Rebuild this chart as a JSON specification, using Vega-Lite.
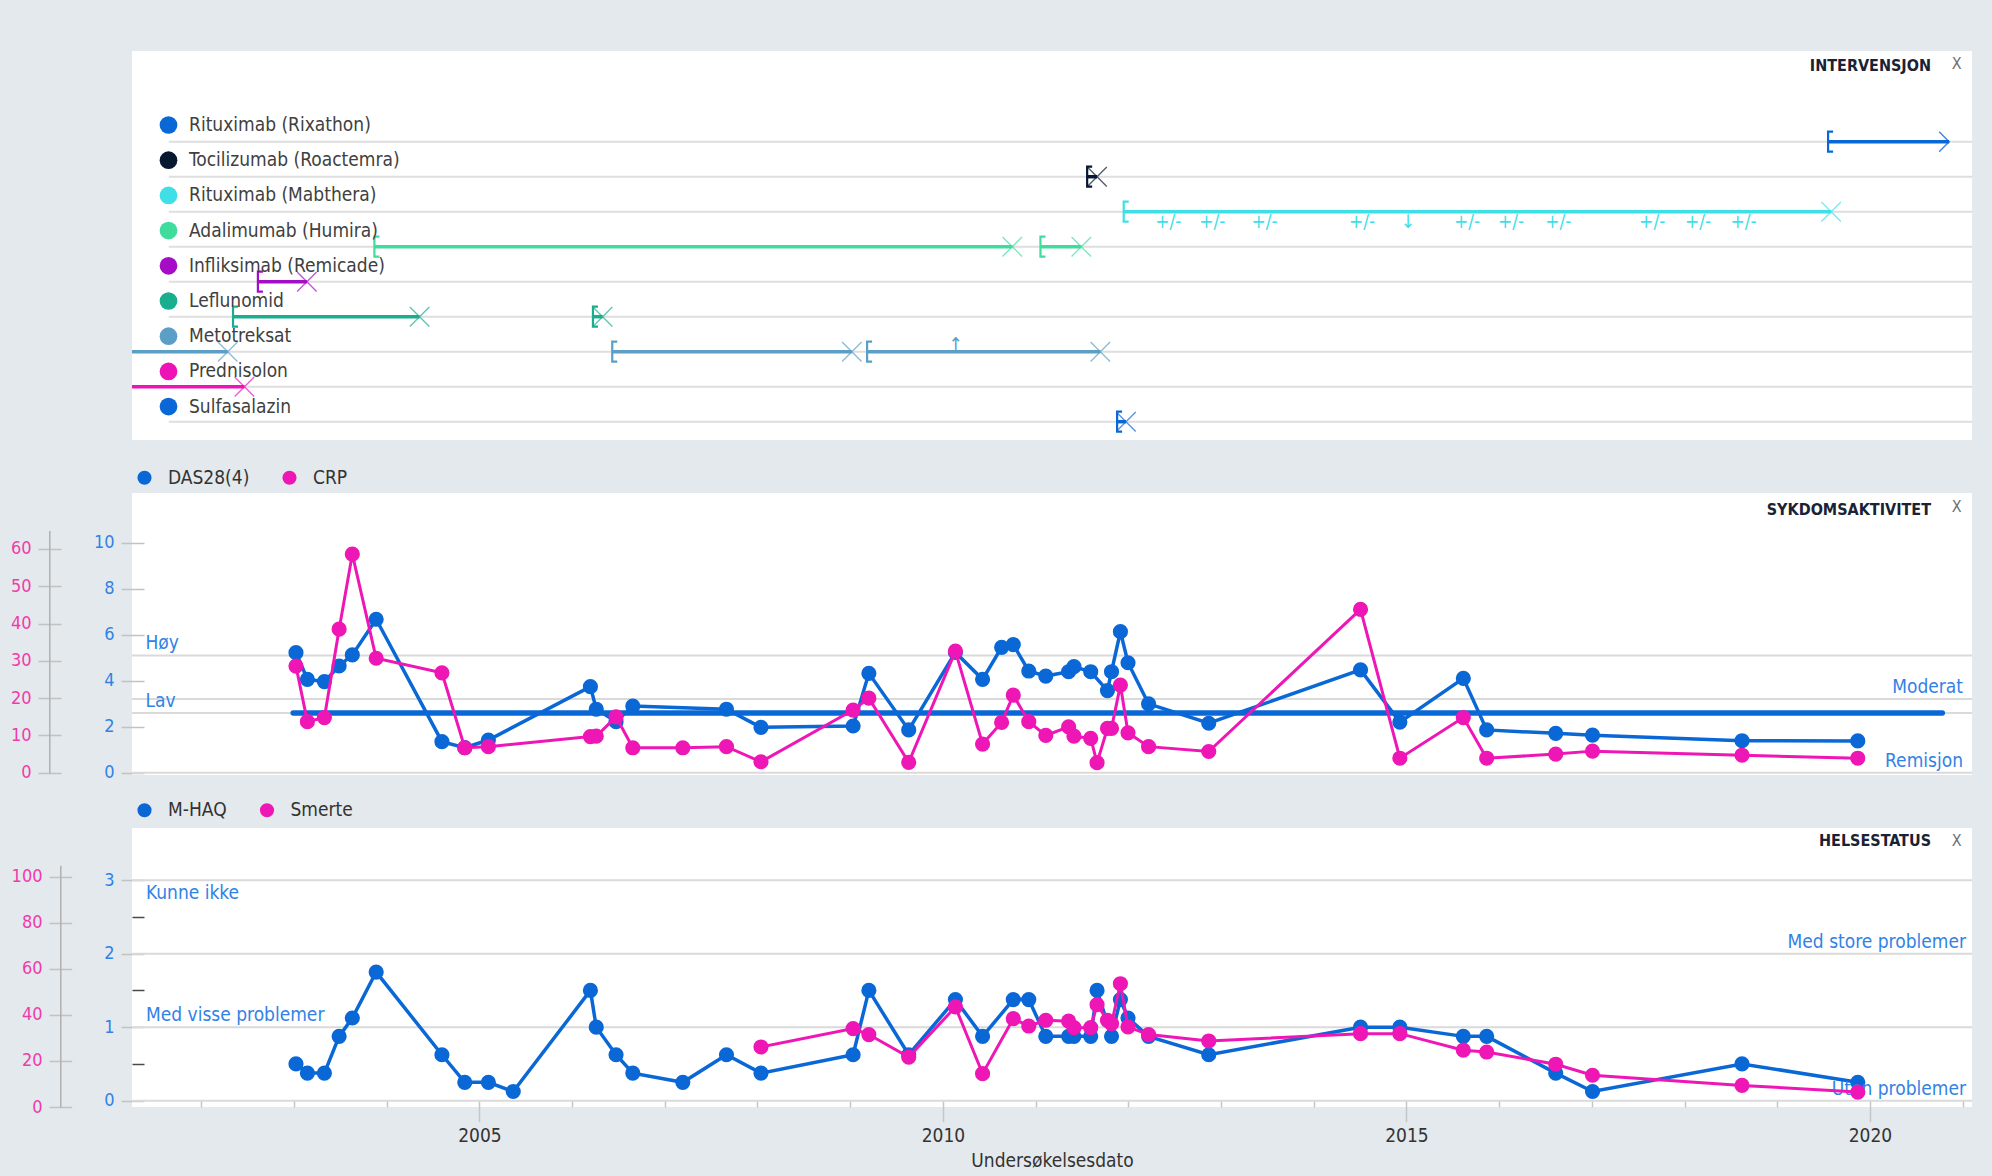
{
  "$schema": "https://vega.github.io/schema/vega-lite/v6.json",
  "background": "#e4e9ed",
  "padding": {"left": 10, "top": 51, "right": 20, "bottom": 10},
  "config": {
    "font": "DejaVu Sans Condensed, DejaVu Sans, sans-serif",
    "view": {"fill": "#ffffff", "stroke": null},
    "axis": {"labelFont": "DejaVu Sans Condensed, DejaVu Sans, sans-serif", "titleFont": "DejaVu Sans Condensed, DejaVu Sans, sans-serif"},
    "legend": {"labelFont": "DejaVu Sans Condensed, DejaVu Sans, sans-serif"},
    "title": {"font": "DejaVu Sans Condensed, DejaVu Sans, sans-serif", "subtitleFont": "DejaVu Sans Condensed, DejaVu Sans, sans-serif"}
  },
  "datasets": {
    "obs": [
      {"date": "2003-01-09", "das": 5.22, "crp": 28.6, "haq": 0.5, "smerte": null},
      {"date": "2003-02-23", "das": 4.06, "crp": 13.7, "haq": 0.375, "smerte": null},
      {"date": "2003-05-01", "das": 3.96, "crp": 14.8, "haq": 0.375, "smerte": null},
      {"date": "2003-06-28", "das": 4.64, "crp": 38.5, "haq": 0.875, "smerte": null},
      {"date": "2003-08-19", "das": 5.12, "crp": 58.6, "haq": 1.125, "smerte": null},
      {"date": "2003-11-21", "das": 6.67, "crp": 30.7, "haq": 1.75, "smerte": null},
      {"date": "2004-08-06", "das": 1.35, "crp": 26.8, "haq": 0.625, "smerte": null},
      {"date": "2004-11-04", "das": 1.09, "crp": 6.7, "haq": 0.25, "smerte": null},
      {"date": "2005-02-05", "das": 1.42, "crp": 7.0, "haq": 0.25, "smerte": null},
      {"date": "2005-05-14", "das": null, "crp": null, "haq": 0.125, "smerte": null},
      {"date": "2006-03-14", "das": 3.74, "crp": 9.7, "haq": 1.5, "smerte": null},
      {"date": "2006-04-06", "das": 2.76, "crp": 9.8, "haq": 1.0, "smerte": null},
      {"date": "2006-06-23", "das": 2.22, "crp": 15.0, "haq": 0.625, "smerte": null},
      {"date": "2006-08-28", "das": 2.9, "crp": 6.7, "haq": 0.375, "smerte": null},
      {"date": "2007-03-13", "das": null, "crp": 6.7, "haq": 0.25, "smerte": null},
      {"date": "2007-09-01", "das": 2.76, "crp": 7.0, "haq": 0.625, "smerte": null},
      {"date": "2008-01-15", "das": 1.97, "crp": 2.95, "haq": 0.375, "smerte": 26.1},
      {"date": "2009-01-12", "das": 2.03, "crp": 16.8, "haq": 0.625, "smerte": 34.1},
      {"date": "2009-03-15", "das": 4.32, "crp": 20.0, "haq": 1.5, "smerte": 31.5},
      {"date": "2009-08-19", "das": 1.86, "crp": 2.8, "haq": 0.625, "smerte": 21.7},
      {"date": "2010-02-19", "das": 5.23, "crp": 32.6, "haq": 1.375, "smerte": 43.5},
      {"date": "2010-06-06", "das": 4.06, "crp": 7.7, "haq": 0.875, "smerte": 14.5},
      {"date": "2010-08-20", "das": 5.45, "crp": 13.5, "haq": null, "smerte": null},
      {"date": "2010-10-05", "das": 5.57, "crp": 20.8, "haq": 1.375, "smerte": 38.4},
      {"date": "2010-12-05", "das": 4.42, "crp": 13.7, "haq": 1.375, "smerte": 35.2},
      {"date": "2011-02-10", "das": 4.2, "crp": 10.0, "haq": 0.875, "smerte": 37.7},
      {"date": "2011-05-11", "das": 4.39, "crp": 12.3, "haq": 0.875, "smerte": 37.3},
      {"date": "2011-06-01", "das": 4.61, "crp": 9.8, "haq": 0.875, "smerte": 34.5},
      {"date": "2011-08-06", "das": 4.39, "crp": 9.2, "haq": 0.875, "smerte": 34.5},
      {"date": "2011-08-31", "das": null, "crp": 2.7, "haq": 1.5, "smerte": 44.5},
      {"date": "2011-10-11", "das": 3.57, "crp": 11.9, "haq": null, "smerte": 37.7},
      {"date": "2011-10-27", "das": 4.39, "crp": 11.9, "haq": 0.875, "smerte": 36.2},
      {"date": "2011-12-01", "das": 6.13, "crp": 23.5, "haq": 1.375, "smerte": 53.6},
      {"date": "2011-12-31", "das": 4.78, "crp": 10.7, "haq": 1.125, "smerte": 34.8},
      {"date": "2012-03-21", "das": 2.99, "crp": 7.0, "haq": 0.875, "smerte": 31.5},
      {"date": "2012-11-13", "das": 2.15, "crp": 5.7, "haq": 0.625, "smerte": 28.7},
      {"date": "2014-07-04", "das": 4.47, "crp": 43.8, "haq": 1.0, "smerte": 31.9},
      {"date": "2014-12-06", "das": 2.2, "crp": 3.9, "haq": 1.0, "smerte": 31.9},
      {"date": "2015-08-13", "das": 4.1, "crp": 14.8, "haq": 0.875, "smerte": 24.7},
      {"date": "2015-11-13", "das": 1.86, "crp": 3.9, "haq": 0.875, "smerte": 23.9},
      {"date": "2016-08-11", "das": 1.71, "crp": 5.0, "haq": 0.375, "smerte": 18.6},
      {"date": "2017-01-03", "das": 1.63, "crp": 5.8, "haq": 0.125, "smerte": 13.8},
      {"date": "2018-08-15", "das": 1.39, "crp": 4.7, "haq": 0.5, "smerte": 9.4},
      {"date": "2019-11-14", "das": 1.38, "crp": 3.9, "haq": 0.25, "smerte": 6.5}
    ],
    "drugs": [
      {"drug": "Rituximab (Rixathon)"},
      {"drug": "Tocilizumab (Roactemra)"},
      {"drug": "Rituximab (Mabthera)"},
      {"drug": "Adalimumab (Humira)"},
      {"drug": "Infliksimab (Remicade)"},
      {"drug": "Leflunomid"},
      {"drug": "Metotreksat"},
      {"drug": "Prednisolon"},
      {"drug": "Sulfasalazin"}
    ],
    "gantt": [
      {"drug": "Rituximab (Rixathon)", "start": "2019-07-20", "end": "2020-11-08", "status": "pågår"},
      {"drug": "Tocilizumab (Roactemra)", "start": "2011-07-23", "end": "2011-08-31", "status": "stoppet"},
      {"drug": "Rituximab (Mabthera)", "start": "2011-12-14", "end": "2019-08-01", "status": "stoppet"},
      {"drug": "Adalimumab (Humira)", "start": "2003-11-14", "end": "2010-10-01", "status": "stoppet"},
      {"drug": "Adalimumab (Humira)", "start": "2011-01-20", "end": "2011-06-30", "status": "stoppet"},
      {"drug": "Infliksimab (Remicade)", "start": "2002-08-12", "end": "2003-02-21", "status": "stoppet"},
      {"drug": "Leflunomid", "start": "2002-05-06", "end": "2004-05-10", "status": "stoppet"},
      {"drug": "Leflunomid", "start": "2006-03-24", "end": "2006-05-01", "status": "stoppet"},
      {"drug": "Metotreksat", "start": "2000-01-01", "end": "2002-04-15", "status": "stoppet"},
      {"drug": "Metotreksat", "start": "2006-06-08", "end": "2009-01-07", "status": "stoppet"},
      {"drug": "Metotreksat", "start": "2009-03-08", "end": "2011-09-13", "status": "stoppet"},
      {"drug": "Prednisolon", "start": "2000-01-01", "end": "2002-06-20", "status": "stoppet"},
      {"drug": "Sulfasalazin", "start": "2011-11-18", "end": "2011-12-23", "status": "stoppet"}
    ],
    "events": [
      {"drug": "Rituximab (Mabthera)", "date": "2012-06-07", "tegn": "+/-"},
      {"drug": "Rituximab (Mabthera)", "date": "2012-11-27", "tegn": "+/-"},
      {"drug": "Rituximab (Mabthera)", "date": "2013-06-21", "tegn": "+/-"},
      {"drug": "Rituximab (Mabthera)", "date": "2014-07-10", "tegn": "+/-"},
      {"drug": "Rituximab (Mabthera)", "date": "2015-01-07", "tegn": "↓"},
      {"drug": "Rituximab (Mabthera)", "date": "2015-08-28", "tegn": "+/-"},
      {"drug": "Rituximab (Mabthera)", "date": "2016-02-17", "tegn": "+/-"},
      {"drug": "Rituximab (Mabthera)", "date": "2016-08-21", "tegn": "+/-"},
      {"drug": "Rituximab (Mabthera)", "date": "2017-08-26", "tegn": "+/-"},
      {"drug": "Rituximab (Mabthera)", "date": "2018-02-23", "tegn": "+/-"},
      {"drug": "Rituximab (Mabthera)", "date": "2018-08-21", "tegn": "+/-"},
      {"drug": "Metotreksat", "date": "2010-02-20", "tegn": "↑"}
    ]
  },
  "bounds": "flush",
  "spacing": 53,
  "resolve": {
    "scale": {"x": "independent", "y": "independent", "fill": "independent", "stroke": "independent"},
    "legend": {"fill": "independent", "stroke": "independent"}
  },
  "vconcat": [
    {
      "width": 1840,
      "height": 389,
      "title": {"text": "INTERVENSJON", "anchor": "end", "frame": "group", "orient": "top", "offset": -23, "dx": -41, "fontSize": 16, "fontWeight": "bold", "color": "#1a2233"},
      "layer": [
        {
          "data": {"name": "drugs"},
          "mark": {"type": "rule", "color": "#dedede", "strokeWidth": 2},
          "encoding": {
            "x": {"datum": {"year": 2001, "month": 8, "date": 26, "utc": true}, "type": "temporal", "scale": {"type": "utc", "domain": [{"year": 2001, "month": 4, "date": 3, "utc": true}, {"year": 2021, "month": 2, "date": 6, "utc": true}]}, "axis": null},
            "x2": {"datum": {"year": 2021, "month": 2, "date": 6, "utc": true}},
            "y": {"field": "drug", "type": "nominal", "scale": {"type": "point", "padding": 0, "domain": ["Rituximab (Rixathon)", "Tocilizumab (Roactemra)", "Rituximab (Mabthera)", "Adalimumab (Humira)", "Infliksimab (Remicade)", "Leflunomid", "Metotreksat", "Prednisolon", "Sulfasalazin"], "range": [90.7, 370.7]},
              "axis": {"orient": "left", "grid": false, "ticks": false, "labels": false, "domain": false, "title": "X", "titleX": 1824.2, "titleY": 12.3, "titleAngle": 0, "titleAlign": "center", "titleBaseline": "middle", "titleFontSize": 16, "titleFontWeight": "normal", "titleColor": "#707070"}}
          }
        },
        {
          "data": {"name": "gantt"},
          "mark": {"type": "rule", "strokeWidth": 3.5, "clip": true},
          "encoding": {
            "x": {"field": "start", "type": "temporal", "axis": null},
            "x2": {"field": "end"},
            "y": {"field": "drug", "type": "nominal"},
            "stroke": {"field": "drug", "type": "nominal", "scale": {"domain": ["Sulfasalazin", "Prednisolon", "Metotreksat", "Leflunomid", "Infliksimab (Remicade)", "Adalimumab (Humira)", "Rituximab (Mabthera)", "Tocilizumab (Roactemra)", "Rituximab (Rixathon)"], "range": ["#0a67d6", "#ee13b6", "#5b9ec6", "#19ae8e", "#a40cc5", "#3fdc9e", "#3fdfe8", "#07182f", "#0a67d6"]}, "legend": null}
          }
        },
        {
          "data": {"name": "gantt"},
          "mark": {"type": "point", "shape": "M0.5,-1L0,-1L0,1L0.5,1", "size": 400, "filled": false, "strokeWidth": 2.2, "opacity": 1, "clip": true},
          "encoding": {
            "x": {"field": "start", "type": "temporal", "axis": null},
            "y": {"field": "drug", "type": "nominal"},
            "stroke": {"field": "drug", "type": "nominal", "legend": null}
          }
        },
        {
          "data": {"name": "gantt"},
          "transform": [{"filter": "datum.status === 'stoppet'"}],
          "mark": {"type": "point", "shape": "M-1,-1L1,1M-1,1L1,-1", "size": 380, "filled": false, "strokeWidth": 1.3, "opacity": 0.7, "clip": true},
          "encoding": {
            "x": {"field": "end", "type": "temporal", "axis": null},
            "y": {"field": "drug", "type": "nominal"},
            "stroke": {"field": "drug", "type": "nominal", "legend": null}
          }
        },
        {
          "data": {"name": "gantt"},
          "transform": [{"filter": "datum.status === 'pågår'"}],
          "mark": {"type": "point", "shape": "M-1,-1L0,0L-1,1", "size": 400, "filled": false, "strokeWidth": 1.4, "opacity": 0.8},
          "encoding": {
            "x": {"field": "end", "type": "temporal", "axis": null},
            "y": {"field": "drug", "type": "nominal"},
            "stroke": {"field": "drug", "type": "nominal", "legend": null}
          }
        },
        {
          "data": {"name": "events"},
          "transform": [{"filter": "datum.tegn !== '↑'"}],
          "mark": {"type": "text", "baseline": "top", "align": "center", "dy": 1, "fontSize": 19},
          "encoding": {
            "x": {"field": "date", "type": "temporal", "axis": null},
            "y": {"field": "drug", "type": "nominal"},
            "text": {"field": "tegn"},
            "fill": {"field": "drug", "type": "nominal", "scale": {"domain": ["Rituximab (Rixathon)", "Tocilizumab (Roactemra)", "Rituximab (Mabthera)", "Adalimumab (Humira)", "Infliksimab (Remicade)", "Leflunomid", "Metotreksat", "Prednisolon", "Sulfasalazin"], "range": ["#0a67d6", "#07182f", "#3fdfe8", "#3fdc9e", "#a40cc5", "#19ae8e", "#5b9ec6", "#ee13b6", "#0a67d6"]}, "legend": {"orient": "none", "legendX": 27, "legendY": 64.5, "title": null, "direction": "vertical", "symbolType": "circle", "symbolSize": 314, "symbolStrokeWidth": 0, "symbolOpacity": 1, "labelFontSize": 19, "labelColor": "#404040", "labelLimit": 400, "rowPadding": 15.2, "labelOffset": 11, "padding": 0}}
          }
        },
        {
          "data": {"name": "events"},
          "transform": [{"filter": "datum.tegn === '↑'"}],
          "mark": {"type": "text", "baseline": "alphabetic", "align": "center", "dy": -1, "fontSize": 19},
          "encoding": {
            "x": {"field": "date", "type": "temporal", "axis": null},
            "y": {"field": "drug", "type": "nominal"},
            "text": {"field": "tegn"},
            "fill": {"field": "drug", "type": "nominal"}
          }
        }
      ]
    },
    {
      "width": 1840,
      "height": 282,
      "title": {"text": "SYKDOMSAKTIVITET", "anchor": "end", "frame": "group", "orient": "top", "offset": -50, "dx": -41, "fontSize": 16, "fontWeight": "bold", "color": "#1a2233"},
      "resolve": {"scale": {"y": "independent"}},
      "layer": [
        {
          "layer": [
            {
              "data": {"values": [{"niva": 5.1}, {"niva": 3.2}, {"niva": 2.6}, {"niva": 0}]},
              "mark": {"type": "rule", "color": "#dadada", "strokeWidth": 2},
              "encoding": {
                "y": {"field": "niva", "type": "quantitative", "scale": {"domain": [-0.1, 12.16], "nice": false, "zero": false},
                  "axis": {"orient": "left", "offset": -12, "domain": false, "grid": false, "title": null,
                    "values": [0, 0.5, 1, 1.5, 2, 2.5, 3, 3.5, 4, 4.5, 5, 5.5, 6, 6.5, 7, 7.5, 8, 8.5, 9, 9.5, 10, 10.5],
                    "labelExpr": "datum.value % 2 === 0 ? '' + datum.value : ''",
                    "tickSize": {"condition": {"test": "datum.value % 2 === 0", "value": 23}, "value": 12},
                    "tickColor": {"condition": {"test": "datum.value % 2 === 0", "value": "#c2c2c2"}, "value": "#4a4a4a"},
                    "tickWidth": 1.5, "labelColor": "#3282e6", "labelFontSize": 18, "labelPadding": 7, "labelOverlap": false, "labelFlush": false}}
              }
            },
            {
              "data": {"values": [{"start": "2002-12-29", "end": "2020-10-12", "niva": 2.6}]},
              "mark": {"type": "rule", "color": "#0a67d6", "strokeWidth": 5.5, "strokeCap": "round"},
              "encoding": {
                "x": {"field": "start", "type": "temporal", "scale": {"type": "utc", "domain": [{"year": 2001, "month": 4, "date": 3, "utc": true}, {"year": 2021, "month": 2, "date": 6, "utc": true}]}, "axis": null},
                "x2": {"field": "end"},
                "y": {"field": "niva", "type": "quantitative"}
              }
            },
            {
              "data": {"name": "obs"},
              "transform": [{"filter": "datum.das != null"}],
              "mark": {"type": "line", "strokeWidth": 3.5, "stroke": "#0a67d6"},
              "encoding": {
                "x": {"field": "date", "type": "temporal", "axis": null},
                "y": {"field": "das", "type": "quantitative"}
              }
            },
            {
              "data": {"name": "obs"},
              "transform": [{"filter": "datum.das != null"}],
              "mark": {"type": "point", "filled": true, "size": 230, "opacity": 1},
              "encoding": {
                "x": {"field": "date", "type": "temporal", "axis": null},
                "y": {"field": "das", "type": "quantitative"},
                "fill": {"datum": "DAS28(4)", "type": "nominal", "scale": {"domain": ["DAS28(4)", "CRP"], "range": ["#0a67d6", "#ee17b5"]}, "legend": {"orient": "none", "legendX": 3, "legendY": -25, "title": null, "direction": "horizontal", "symbolType": "circle", "symbolSize": 200, "symbolStrokeWidth": 0, "symbolOpacity": 1, "labelFontSize": 19, "labelColor": "#333333", "labelOffset": 14, "columnPadding": 30, "padding": 0}}
              }
            },
            {
              "data": {"values": [{"tekst": "Høy", "niva": 5.1}, {"tekst": "Lav", "niva": 2.6}]},
              "mark": {"type": "text", "align": "left", "baseline": "middle", "dx": 13.5, "dy": -12, "fontSize": 19, "color": "#3282e6"},
              "encoding": {
                "x": {"datum": {"year": 2001, "month": 4, "date": 3, "utc": true}, "type": "temporal", "axis": null},
                "y": {"field": "niva", "type": "quantitative"},
                "text": {"field": "tekst"}
              }
            },
            {
              "data": {"values": [{"tekst": "Moderat", "niva": 3.2}, {"tekst": "Remisjon", "niva": 0}]},
              "mark": {"type": "text", "align": "right", "baseline": "middle", "dx": -9, "dy": -12, "fontSize": 19, "color": "#3282e6"},
              "encoding": {
                "x": {"datum": {"year": 2021, "month": 2, "date": 6, "utc": true}, "type": "temporal", "axis": null},
                "y": {"field": "niva", "type": "quantitative"},
                "text": {"field": "tekst"}
              }
            }
          ]
        },
        {
          "layer": [
            {
              "data": {"name": "obs"},
              "transform": [{"filter": "datum.crp != null"}],
              "mark": {"type": "line", "strokeWidth": 3, "stroke": "#ee17b5"},
              "encoding": {
                "x": {"field": "date", "type": "temporal", "axis": null},
                "y": {"field": "crp", "type": "quantitative", "scale": {"domain": [-0.6, 75], "nice": false, "zero": false},
                  "axis": {"orient": "left", "offset": 71, "domain": false, "grid": false, "title": null,
                    "values": [0, 5, 10, 15, 20, 25, 30, 35, 40, 45, 50, 55, 60, 65],
                    "labelExpr": "datum.value % 10 === 0 ? '' + datum.value : ''",
                    "tickSize": {"condition": {"test": "datum.value % 10 === 0", "value": 23}, "value": 11},
                    "tickColor": {"condition": {"test": "datum.value % 10 === 0", "value": "#c2c2c2"}, "value": "#4a4a4a"},
                    "tickWidth": 1.5, "labelColor": "#f03caa", "labelFontSize": 18, "labelPadding": 7, "labelOverlap": false, "labelFlush": false}}
              }
            },
            {
              "data": {"name": "obs"},
              "transform": [{"filter": "datum.crp != null"}],
              "mark": {"type": "point", "filled": true, "size": 230, "opacity": 1},
              "encoding": {
                "x": {"field": "date", "type": "temporal", "axis": null},
                "y": {"field": "crp", "type": "quantitative"},
                "fill": {"datum": "CRP", "type": "nominal"}
              }
            }
          ]
        },
        {
          "data": {"name": "obs"},
          "transform": [{"filter": "datum.crp != null"}],
          "mark": {"type": "point", "opacity": 0},
          "encoding": {
            "y": {"field": "crp", "type": "quantitative", "scale": {"domain": [0, 65], "range": [279.7, 37.4], "nice": false, "zero": false},
              "axis": {"orient": "left", "offset": 82.7, "domain": true, "domainColor": "#b0b0b0", "domainWidth": 1.5, "ticks": false, "labels": false, "grid": false,
                "title": "X", "titleX": 1906.9, "titleY": 13.7, "titleAngle": 0, "titleAlign": "center", "titleBaseline": "middle", "titleFontSize": 16, "titleFontWeight": "normal", "titleColor": "#707070"}}
          }
        }
      ]
    },
    {
      "width": 1840,
      "height": 279,
      "title": {"text": "HELSESTATUS", "anchor": "end", "frame": "group", "orient": "top", "offset": -48, "dx": -41, "fontSize": 16, "fontWeight": "bold", "color": "#1a2233"},
      "resolve": {"scale": {"y": "independent"}},
      "layer": [
        {
          "layer": [
            {
              "data": {"values": [{"niva": 3}, {"niva": 2}, {"niva": 1}, {"niva": 0}]},
              "mark": {"type": "rule", "color": "#dadada", "strokeWidth": 2},
              "encoding": {
                "y": {"field": "niva", "type": "quantitative", "scale": {"domain": [-0.086, 3.71], "nice": false, "zero": false},
                  "axis": {"orient": "left", "offset": -12, "domain": false, "grid": false, "title": null,
                    "values": [0, 0.5, 1, 1.5, 2, 2.5, 3],
                    "labelExpr": "datum.value % 1 === 0 ? '' + datum.value : ''",
                    "tickSize": {"condition": {"test": "datum.value % 1 === 0", "value": 23}, "value": 12},
                    "tickColor": {"condition": {"test": "datum.value % 1 === 0", "value": "#c2c2c2"}, "value": "#4a4a4a"},
                    "tickWidth": 1.5, "labelColor": "#3282e6", "labelFontSize": 18, "labelPadding": 7, "labelOverlap": false, "labelFlush": false}}
              }
            },
            {
              "data": {"name": "obs"},
              "transform": [{"filter": "datum.haq != null"}],
              "mark": {"type": "line", "strokeWidth": 3.5, "stroke": "#0a67d6"},
              "encoding": {
                "x": {"field": "date", "type": "temporal", "title": "Undersøkelsesdato", "scale": {"type": "utc", "domain": [{"year": 2001, "month": 4, "date": 3, "utc": true}, {"year": 2021, "month": 2, "date": 6, "utc": true}]},
                  "axis": {"orient": "bottom", "offset": -6.3, "domain": false, "grid": false,
                    "tickCount": {"interval": "year", "step": 1},
                    "tickColor": "#c6c6c6", "tickWidth": 1.5,
                    "tickSize": {"condition": {"test": "utcyear(datum.value) % 5 === 0", "value": 21}, "value": 6.3},
                    "labelExpr": "utcyear(datum.value) % 5 === 0 ? utcFormat(datum.value, '%Y') : ''",
                    "labelFontSize": 19, "labelColor": "#333333", "labelPadding": 5, "labelFlush": false, "labelOverlap": false,
                    "title": "Undersøkelsesdato", "titleFontSize": 19, "titleFontWeight": "normal", "titleColor": "#333333", "titlePadding": 6}},
                "y": {"field": "haq", "type": "quantitative"}
              }
            },
            {
              "data": {"name": "obs"},
              "transform": [{"filter": "datum.haq != null"}],
              "mark": {"type": "point", "filled": true, "size": 230, "opacity": 1},
              "encoding": {
                "x": {"field": "date", "type": "temporal", "title": "Undersøkelsesdato"},
                "y": {"field": "haq", "type": "quantitative"},
                "fill": {"datum": "M-HAQ", "type": "nominal", "scale": {"domain": ["M-HAQ", "Smerte"], "range": ["#0a67d6", "#ee17b5"]}, "legend": {"orient": "none", "legendX": 3, "legendY": -27.5, "title": null, "direction": "horizontal", "symbolType": "circle", "symbolSize": 200, "symbolStrokeWidth": 0, "symbolOpacity": 1, "labelFontSize": 19, "labelColor": "#333333", "labelOffset": 14, "columnPadding": 30.5, "padding": 0}}
              }
            },
            {
              "data": {"values": [{"tekst": "Kunne ikke", "niva": 3}]},
              "mark": {"type": "text", "align": "left", "baseline": "middle", "dx": 14, "dy": 12.5, "fontSize": 19, "color": "#3282e6"},
              "encoding": {
                "x": {"datum": {"year": 2001, "month": 4, "date": 3, "utc": true}, "type": "temporal"},
                "y": {"field": "niva", "type": "quantitative"},
                "text": {"field": "tekst"}
              }
            },
            {
              "data": {"values": [{"tekst": "Med visse problemer", "niva": 1}]},
              "mark": {"type": "text", "align": "left", "baseline": "middle", "dx": 14, "dy": -12, "fontSize": 19, "color": "#3282e6"},
              "encoding": {
                "x": {"datum": {"year": 2001, "month": 4, "date": 3, "utc": true}, "type": "temporal"},
                "y": {"field": "niva", "type": "quantitative"},
                "text": {"field": "tekst"}
              }
            },
            {
              "data": {"values": [{"tekst": "Med store problemer", "niva": 2}, {"tekst": "Uten problemer", "niva": 0}]},
              "mark": {"type": "text", "align": "right", "baseline": "middle", "dx": -6, "dy": -12, "fontSize": 19, "color": "#3282e6"},
              "encoding": {
                "x": {"datum": {"year": 2021, "month": 2, "date": 6, "utc": true}, "type": "temporal"},
                "y": {"field": "niva", "type": "quantitative"},
                "text": {"field": "tekst"}
              }
            }
          ]
        },
        {
          "layer": [
            {
              "data": {"name": "obs"},
              "transform": [{"filter": "datum.smerte != null"}],
              "mark": {"type": "line", "strokeWidth": 3, "stroke": "#ee17b5"},
              "encoding": {
                "x": {"field": "date", "type": "temporal", "title": "Undersøkelsesdato"},
                "y": {"field": "smerte", "type": "quantitative", "scale": {"domain": [0, 121.3], "nice": false, "zero": false},
                  "axis": {"orient": "left", "offset": 60.3, "domain": false, "grid": false, "title": null,
                    "values": [0, 5, 10, 15, 20, 25, 30, 35, 40, 45, 50, 55, 60, 65, 70, 75, 80, 85, 90, 95, 100, 105],
                    "labelExpr": "datum.value % 20 === 0 ? '' + datum.value : ''",
                    "tickSize": {"condition": {"test": "datum.value % 20 === 0", "value": 22.7}, "value": 10.7},
                    "tickColor": {"condition": {"test": "datum.value % 20 === 0", "value": "#c2c2c2"}, "value": "#4a4a4a"},
                    "tickWidth": 1.5, "labelColor": "#f03caa", "labelFontSize": 18, "labelPadding": 7, "labelOverlap": false, "labelFlush": false}}
              }
            },
            {
              "data": {"name": "obs"},
              "transform": [{"filter": "datum.smerte != null"}],
              "mark": {"type": "point", "filled": true, "size": 230, "opacity": 1},
              "encoding": {
                "x": {"field": "date", "type": "temporal", "title": "Undersøkelsesdato"},
                "y": {"field": "smerte", "type": "quantitative"},
                "fill": {"datum": "Smerte", "type": "nominal"}
              }
            }
          ]
        },
        {
          "data": {"name": "obs"},
          "transform": [{"filter": "datum.smerte != null"}],
          "mark": {"type": "point", "opacity": 0},
          "encoding": {
            "y": {"field": "smerte", "type": "quantitative", "scale": {"domain": [0, 105], "range": [278.7, 37.2], "nice": false, "zero": false},
              "axis": {"orient": "left", "offset": 71.7, "domain": true, "domainColor": "#b0b0b0", "domainWidth": 1.5, "ticks": false, "labels": false, "grid": false,
                "title": "X", "titleX": 1895.9, "titleY": 12.7, "titleAngle": 0, "titleAlign": "center", "titleBaseline": "middle", "titleFontSize": 16, "titleFontWeight": "normal", "titleColor": "#707070"}}
          }
        }
      ]
    }
  ]
}
